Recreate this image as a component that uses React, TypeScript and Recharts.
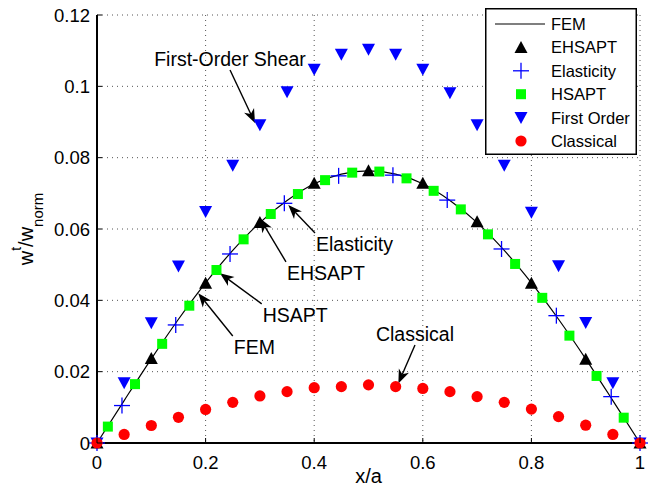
import React from 'react'
import {
  ComposedChart, Line, Scatter, XAxis, YAxis, CartesianGrid,
  ReferenceLine, Legend,
} from 'recharts'

// FEM curve
const femX = [0, 0.05, 0.1, 0.15, 0.2, 0.25, 0.3, 0.35, 0.4, 0.45, 0.5, 0.55, 0.6, 0.65, 0.7, 0.75, 0.8, 0.85, 0.9, 0.95, 1]
const femY = [0, 0.0119, 0.0236, 0.0347, 0.0449, 0.054, 0.0618, 0.068, 0.0727, 0.0754, 0.0763, 0.0754, 0.0727, 0.068, 0.0618, 0.054, 0.0449, 0.0347, 0.0236, 0.0119, 0]

const ehsaptX = [0, 0.1, 0.2, 0.3, 0.4, 0.5, 0.6, 0.7, 0.8, 0.9, 1]
const ehsaptY = [0, 0.0237, 0.0448, 0.0618, 0.0728, 0.0763, 0.0728, 0.062, 0.0448, 0.0235, 0]

const elasticityX = [0, 0.046, 0.145, 0.245, 0.345, 0.445, 0.545, 0.645, 0.745, 0.846, 0.947, 1]
const elasticityY = [0, 0.0105, 0.0331, 0.053, 0.0672, 0.0749, 0.0751, 0.0681, 0.0544, 0.0357, 0.013, 0]

const hsaptX = [0.02, 0.07, 0.12, 0.17, 0.22, 0.27, 0.32, 0.37, 0.42, 0.47, 0.52, 0.57, 0.62, 0.67, 0.72, 0.77, 0.82, 0.87, 0.92, 0.97]
const hsaptY = [0.0046, 0.0165, 0.0278, 0.0385, 0.0485, 0.0571, 0.0642, 0.0698, 0.0737, 0.0758, 0.0761, 0.0742, 0.0707, 0.0655, 0.0585, 0.0502, 0.0407, 0.0301, 0.0188, 0.0071]

const firstOrderX = [0, 0.05, 0.1, 0.15, 0.2, 0.25, 0.3, 0.35, 0.4, 0.45, 0.5, 0.55, 0.6, 0.65, 0.7, 0.75, 0.8, 0.85, 0.9, 0.95, 1]
const firstOrderY = [0, 0.0169, 0.0337, 0.0496, 0.0649, 0.0779, 0.0892, 0.0985, 0.1048, 0.109, 0.1104, 0.109, 0.1048, 0.0982, 0.0892, 0.0779, 0.0647, 0.0497, 0.0338, 0.0169, 0]

const classicalX = [0, 0.05, 0.1, 0.15, 0.2, 0.25, 0.3, 0.35, 0.4, 0.45, 0.5, 0.55, 0.6, 0.65, 0.7, 0.75, 0.8, 0.85, 0.9, 0.95, 1]
const classicalY = [0, 0.0024, 0.0049, 0.0072, 0.0094, 0.0114, 0.0132, 0.0144, 0.0155, 0.0158, 0.0163, 0.0158, 0.0153, 0.0144, 0.013, 0.0114, 0.0095, 0.0074, 0.005, 0.0024, 0]

const xTicks = [0, 0.2, 0.4, 0.6, 0.8, 1]
const yTicks = [0, 0.02, 0.04, 0.06, 0.08, 0.1, 0.12]

const legendNames = ['FEM', 'EHSAPT', 'Elasticity', 'HSAPT', 'First Order', 'Classical']

// annotations: label, arrow tail [x, y], arrow head [x, y] in data units
const noteLabels = ['First-Order Shear', 'Elasticity', 'EHSAPT', 'HSAPT', 'FEM', 'Classical']
const noteTails = [[0.245, 0.1046], [0.4015, 0.0589], [0.348, 0.0508], [0.3033, 0.039], [0.25, 0.03], [0.5856, 0.0275]]
const noteHeads = [[0.291, 0.0897], [0.3523, 0.0667], [0.3, 0.063], [0.2265, 0.0476], [0.1865, 0.042], [0.555, 0.0167]]
const noteAbove = [true, false, false, false, false, true]

const FONT = '"Liberation Sans", Arial, Helvetica, sans-serif'
const BLUE = '#0000ff'
const GREEN = '#00ff00'
const RED = '#ff0000'

const zip = (xs: number[], ys: number[]) => xs.map((x, i) => ({ x, y: ys[i] }))

const femData = zip(femX, femY)
const ehsaptData = zip(ehsaptX, ehsaptY)
const elasticityData = zip(elasticityX, elasticityY)
const hsaptData = zip(hsaptX, hsaptY)
const firstOrderData = zip(firstOrderX, firstOrderY)
const classicalData = zip(classicalX, classicalY)

function TriUp({ cx, cy }: any) {
  return <polygon points={`${cx},${cy - 6.5} ${cx - 6.5},${cy + 5.5} ${cx + 6.5},${cy + 5.5}`} fill="#000" />
}
function TriDown({ cx, cy }: any) {
  return <polygon points={`${cx - 6.5},${cy - 5.5} ${cx + 6.5},${cy - 5.5} ${cx},${cy + 6.5}`} fill={BLUE} />
}
function Plus({ cx, cy }: any) {
  return (
    <g stroke={BLUE} strokeWidth={1.3}>
      <line x1={cx - 8} x2={cx + 8} y1={cy} y2={cy} />
      <line x1={cx} x2={cx} y1={cy - 8} y2={cy + 8} />
    </g>
  )
}
function Square({ cx, cy }: any) {
  return <rect x={cx - 5} y={cy - 5} width={10} height={10} fill={GREEN} />
}
function Dot({ cx, cy }: any) {
  return <circle cx={cx} cy={cy} r={5.6} fill={RED} />
}

const legendMarkers = [
  (cx: number, cy: number) => <line x1={cx - 26} x2={cx + 24} y1={cy} y2={cy} stroke="#000" strokeWidth={1.2} />,
  (cx: number, cy: number) => <TriUp cx={cx} cy={cy} />,
  (cx: number, cy: number) => <Plus cx={cx} cy={cy} />,
  (cx: number, cy: number) => <Square cx={cx} cy={cy} />,
  (cx: number, cy: number) => <TriDown cx={cx} cy={cy} />,
  (cx: number, cy: number) => <Dot cx={cx} cy={cy} />,
]

function LegendBox() {
  return (
    <svg width={153} height={148} style={{ display: 'block' }}>
      <rect x={0.75} y={0.75} width={150.5} height={145.5} fill="#fff" stroke="#000" strokeWidth={1.5} />
      {legendNames.map((name, i) => {
        const cy = 16 + i * 23.4
        return (
          <g key={name}>
            {legendMarkers[i](36, cy)}
            <text x={66} y={cy} dy="0.36em" fontSize={16.5} fontFamily={FONT} fill="#000">{name}</text>
          </g>
        )
      })}
    </svg>
  )
}

function makeArrow(i: number) {
  return (p: any) => {
    const { x1, y1, x2, y2 } = p
    const dx = x2 - x1
    const dy = y2 - y1
    const len = Math.sqrt(dx * dx + dy * dy)
    const ux = dx / len
    const uy = dy / len
    const nx = -uy
    const ny = ux
    const L = 14
    const W = 5.5
    const bx = x2 - L * ux
    const by = y2 - L * uy
    const mx = x2 - (L - 4) * ux
    const my = y2 - (L - 4) * uy
    const above = noteAbove[i]
    return (
      <g>
        <line x1={x1} y1={y1} x2={mx} y2={my} stroke="#000" strokeWidth={1.4} />
        <polygon
          points={`${x2},${y2} ${bx + W * nx},${by + W * ny} ${mx},${my} ${bx - W * nx},${by - W * ny}`}
          fill="#000"
        />
        <text
          x={above ? x1 : x1 + 1}
          y={above ? y1 - 4 : y1 + 18}
          textAnchor={above ? 'middle' : 'start'}
          fontSize={19.5}
          fontFamily={FONT}
          fill="#000"
        >
          {noteLabels[i]}
        </text>
      </g>
    )
  }
}

function LeftTick({ x, y, payload }: any) {
  return (
    <g>
      <line x1={x} x2={x + 5} y1={y} y2={y} stroke="#000" strokeWidth={1} />
      <text x={x - 7} y={y} dy="0.36em" textAnchor="end" fontSize={18.5} fontFamily={FONT} fill="#000">
        {payload.value}
      </text>
    </g>
  )
}
function BottomTick({ x, y, payload }: any) {
  return (
    <g>
      <line x1={x} x2={x} y1={y} y2={y - 5} stroke="#000" strokeWidth={1} />
      <text x={x} y={y + 13} dy="0.72em" textAnchor="middle" fontSize={18.5} fontFamily={FONT} fill="#000">
        {payload.value}
      </text>
    </g>
  )
}
function TopTick({ x, y }: any) {
  return <line x1={x} x2={x} y1={y} y2={y + 5} stroke="#000" strokeWidth={1} />
}
function RightTick({ x, y }: any) {
  return <line x1={x} x2={x - 5} y1={y} y2={y} stroke="#000" strokeWidth={1} />
}

const axisLine = { stroke: '#000', strokeWidth: 2 }

export default function App() {
  return (
    <div style={{ position: 'absolute', left: 0, top: 0, width: 662, height: 487, background: '#fff' }}>
      <ComposedChart width={662} height={487} margin={{ top: 15, right: 22, bottom: 0, left: 0 }}>
        <CartesianGrid stroke="#555" strokeDasharray="1 4" />
        <XAxis
          dataKey="x" type="number" domain={[0, 1]} ticks={xTicks} interval={0}
          height={44} tickSize={0} tickMargin={0} tickLine={false} axisLine={axisLine}
          tick={<BottomTick />}
          label={{
            content: ({ viewBox }: any) => (
              <text x={viewBox.x + viewBox.width / 2} y={viewBox.y + 40} textAnchor="middle" fontSize={20} fontFamily={FONT} fill="#000">
                x/a
              </text>
            ),
          }}
        />
        <XAxis
          xAxisId="top" orientation="top" type="number" domain={[0, 1]} ticks={xTicks} interval={0}
          height={0} tickSize={0} tickMargin={0} tickLine={false} axisLine={axisLine} tick={<TopTick />}
        />
        <YAxis
          dataKey="y" type="number" domain={[0, 0.12]} ticks={yTicks} interval={0}
          width={97} tickSize={0} tickMargin={0} tickLine={false} axisLine={axisLine}
          tick={<LeftTick />}
          label={{
            content: ({ viewBox }: any) => {
              const cx = viewBox.x + 33
              const cy = viewBox.y + viewBox.height / 2
              return (
                <text x={cx} y={cy} transform={`rotate(-90, ${cx}, ${cy})`} textAnchor="middle" fontSize={20} fontFamily={FONT} fill="#000">
                  w<tspan dy={-12} fontSize={14}>t</tspan>
                  <tspan dy={12}>/w</tspan>
                  <tspan dy={10} fontSize={15}>norm</tspan>
                </text>
              )
            },
          }}
        />
        <YAxis
          yAxisId="right" orientation="right" type="number" domain={[0, 0.12]} ticks={yTicks} interval={0}
          width={0} tickSize={0} tickMargin={0} tickLine={false} axisLine={axisLine} tick={<RightTick />}
        />
        <Line data={femData} dataKey="y" type="monotone" stroke="#000" strokeWidth={1.2} dot={false} activeDot={false} isAnimationActive={false} />
        <Scatter data={ehsaptData} shape={<TriUp />} isAnimationActive={false} />
        <Scatter data={elasticityData} shape={<Plus />} isAnimationActive={false} />
        <Scatter data={hsaptData} shape={<Square />} isAnimationActive={false} />
        <Scatter data={firstOrderData} shape={<TriDown />} isAnimationActive={false} />
        <Scatter data={classicalData} shape={<Dot />} isAnimationActive={false} />
        {noteLabels.map((label, i) => (
          <ReferenceLine
            key={label}
            segment={[
              { x: noteTails[i][0], y: noteTails[i][1] },
              { x: noteHeads[i][0], y: noteHeads[i][1] },
            ]}
            shape={makeArrow(i)}
          />
        ))}
        <Legend
          layout="vertical" align="center" verticalAlign="middle"
          wrapperStyle={{ position: 'absolute', left: 485, top: 8, width: 153, height: 148 }}
          content={() => <LegendBox />}
        />
      </ComposedChart>
    </div>
  )
}
